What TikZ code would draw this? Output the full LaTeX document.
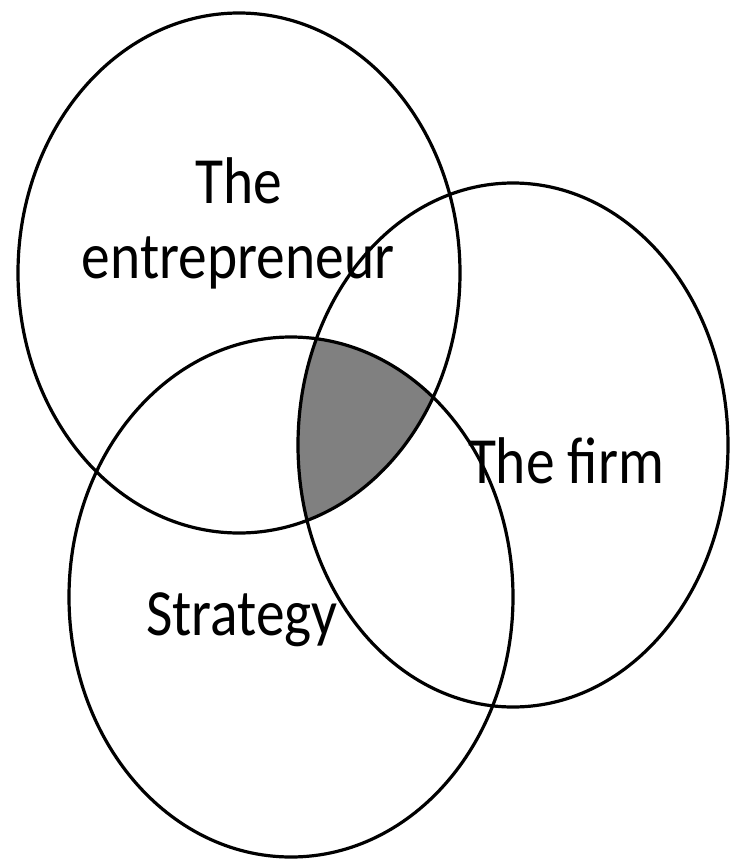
\documentclass[tikz,border=0pt]{standalone}
\usepackage{fontspec}
\setmainfont{Carlito}[FakeStretch=0.87]
\definecolor{midgray}{RGB}{128,128,128}
\tikzset{
  ring/.style={draw=black, line width=3.2pt},
  lbl/.style={inner sep=0pt, anchor=base, font=\fontsize{66}{79}\selectfont, text=black}
}
\begin{document}
\begin{tikzpicture}[x=1pt,y=-1pt]
\useasboundingbox[fill=white] (0,0) rectangle (730,860);
% shaded triple intersection
\begin{scope}
  \clip (239,273) ellipse [x radius=221, y radius=260];
  \clip (513,445) ellipse [x radius=215, y radius=262];
  \fill[fill=midgray] (291,597) ellipse [x radius=222, y radius=260];
\end{scope}
% ellipses
\draw[ring] (239,273) ellipse [x radius=221, y radius=260];
\draw[ring] (513,445) ellipse [x radius=215, y radius=262];
\draw[ring] (291,597) ellipse [x radius=222, y radius=260];
% labels
\node[lbl] (the) at (239,203) {The};
\node[lbl] (ent) at (238,278) {entrepreneur};
\node[lbl] (firm) at (566,483) {The firm};
\node[lbl] (strat) at (242,635) {Strategy};
\end{tikzpicture}
\end{document}
